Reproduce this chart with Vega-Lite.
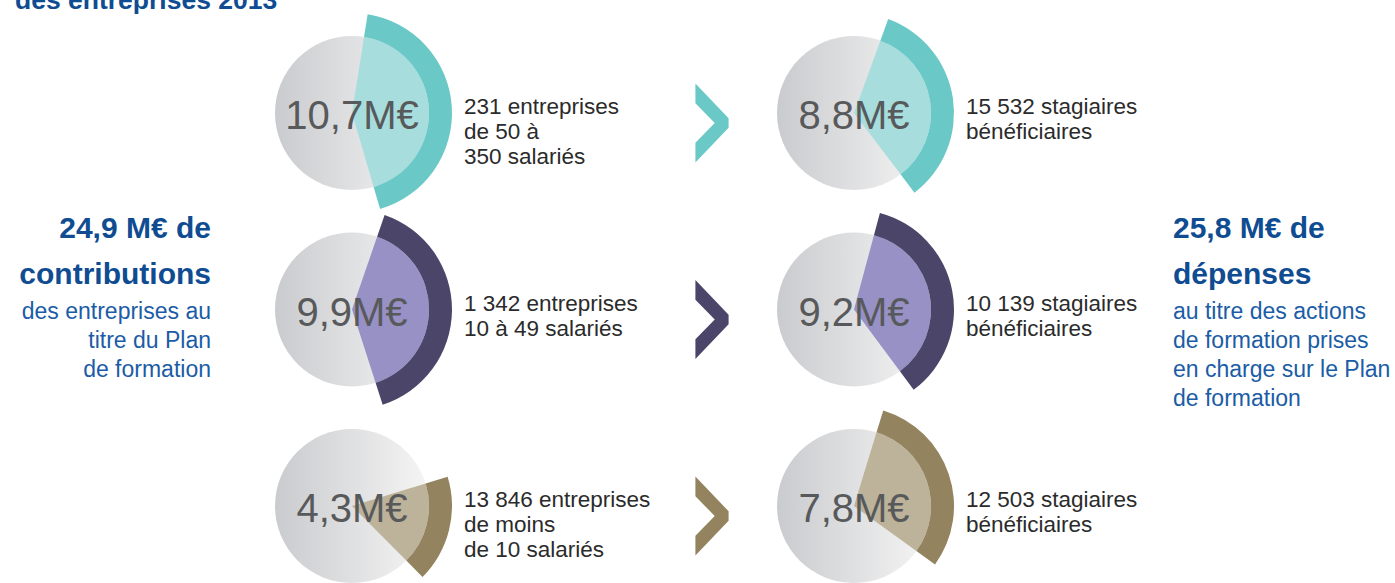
{
  "$schema": "https://vega.github.io/schema/vega-lite/v6.json",
  "width": 1395,
  "height": 583,
  "autosize": "none",
  "padding": 0,
  "background": "white",
  "config": {"view": {"stroke": null}},
  "datasets": {
    "cercles": [
      {"colonne": "Contributions", "tranche": "50 à 350 salariés", "montant": 10.7, "libelle": "10,7M€", "texte": "231 entreprises\nde 50 à\n350 salariés"},
      {"colonne": "Contributions", "tranche": "10 à 49 salariés", "montant": 9.9, "libelle": "9,9M€", "texte": "1 342 entreprises\n10 à 49 salariés"},
      {"colonne": "Contributions", "tranche": "moins de 10 salariés", "montant": 4.3, "libelle": "4,3M€", "texte": "13 846 entreprises\nde moins\nde 10 salariés"},
      {"colonne": "Dépenses", "tranche": "50 à 350 salariés", "montant": 8.8, "libelle": "8,8M€", "texte": "15 532 stagiaires\nbénéficiaires"},
      {"colonne": "Dépenses", "tranche": "10 à 49 salariés", "montant": 9.2, "libelle": "9,2M€", "texte": "10 139 stagiaires\nbénéficiaires"},
      {"colonne": "Dépenses", "tranche": "moins de 10 salariés", "montant": 7.8, "libelle": "7,8M€", "texte": "12 503 stagiaires\nbénéficiaires"}
    ],
    "titres": [
      {"colonne": "Contributions", "tranche": "10 à 49 salariés", "titre": "24,9 M€ de\ncontributions", "soustitre": "des entreprises au\ntitre du Plan\nde formation"},
      {"colonne": "Dépenses", "tranche": "10 à 49 salariés", "titre": "25,8 M€ de\ndépenses", "soustitre": "au titre des actions\nde formation prises\nen charge sur le Plan\nde formation"}
    ],
    "surtitre": [
      {"colonne": "Contributions", "tranche": "50 à 350 salariés", "texte": "des entreprises 2013"}
    ]
  },
  "data": {"name": "cercles"},
  "encoding": {
    "x": {"field": "colonne", "type": "nominal", "axis": null,
      "scale": {"type": "point", "domain": ["Contributions", "Dépenses"], "range": [352, 854], "padding": 0}},
    "y": {"field": "tranche", "type": "nominal", "axis": null,
      "scale": {"type": "point", "domain": ["50 à 350 salariés", "10 à 49 salariés", "moins de 10 salariés"], "range": [113, 506], "padding": 0}}
  },
  "resolve": {"scale": {"theta": "independent"}},
  "layer": [
    {
      "mark": {"type": "arc", "innerRadius": 0, "outerRadius": 77, "theta": 0, "theta2": 6.2832,
        "fill": {"gradient": "linear", "x1": 0, "y1": 0, "x2": 1, "y2": 0,
          "stops": [{"offset": 0, "color": "#CACBCE"}, {"offset": 1, "color": "#F5F5F5"}]}},
      "encoding": {}
    },
    {
      "transform": [{"filter": "datum.colonne === 'Contributions' && datum.tranche === '50 à 350 salariés'"}],
      "encoding": {
        "theta": {"field": "montant", "type": "quantitative", "stack": null,
          "scale": {"domain": [0, 24.9], "range": [0.157, 6.440], "nice": false, "zero": true}},
        "theta2": {"datum": 0}
      },
      "layer": [
        {"mark": {"type": "arc", "innerRadius": 0, "outerRadius": 77},
         "encoding": {"fill": {"field": "tranche", "type": "nominal", "legend": null,
           "scale": {"domain": ["50 à 350 salariés", "10 à 49 salariés", "moins de 10 salariés"], "range": ["#A7DEDD", "#9891C5", "#BDB39A"]}}}},
        {"mark": {"type": "arc", "innerRadius": 77, "outerRadius": 100},
         "encoding": {"color": {"field": "tranche", "type": "nominal", "legend": null,
           "scale": {"domain": ["50 à 350 salariés", "10 à 49 salariés", "moins de 10 salariés"], "range": ["#6AC9C7", "#4B4569", "#93835F"]}}}}
      ]
    },
    {
      "transform": [{"filter": "datum.colonne === 'Contributions' && datum.tranche === '10 à 49 salariés'"}],
      "encoding": {
        "theta": {"field": "montant", "type": "quantitative", "stack": null,
          "scale": {"domain": [0, 24.9], "range": [0.332, 6.615], "nice": false, "zero": true}},
        "theta2": {"datum": 0}
      },
      "layer": [
        {"mark": {"type": "arc", "innerRadius": 0, "outerRadius": 77},
         "encoding": {"fill": {"field": "tranche", "type": "nominal", "legend": null}}},
        {"mark": {"type": "arc", "innerRadius": 77, "outerRadius": 100},
         "encoding": {"color": {"field": "tranche", "type": "nominal", "legend": null}}}
      ]
    },
    {
      "transform": [{"filter": "datum.colonne === 'Contributions' && datum.tranche === 'moins de 10 salariés'"}],
      "encoding": {
        "theta": {"field": "montant", "type": "quantitative", "stack": null,
          "scale": {"domain": [0, 24.9], "range": [1.274, 7.557], "nice": false, "zero": true}},
        "theta2": {"datum": 0}
      },
      "layer": [
        {"mark": {"type": "arc", "innerRadius": 0, "outerRadius": 77},
         "encoding": {"fill": {"field": "tranche", "type": "nominal", "legend": null}}},
        {"mark": {"type": "arc", "innerRadius": 77, "outerRadius": 100},
         "encoding": {"color": {"field": "tranche", "type": "nominal", "legend": null}}}
      ]
    },
    {
      "transform": [{"filter": "datum.colonne === 'Dépenses' && datum.tranche === '50 à 350 salariés'"}],
      "encoding": {
        "theta": {"field": "montant", "type": "quantitative", "stack": null,
          "scale": {"domain": [0, 25.8], "range": [0.349, 6.632], "nice": false, "zero": true}},
        "theta2": {"datum": 0}
      },
      "layer": [
        {"mark": {"type": "arc", "innerRadius": 0, "outerRadius": 77},
         "encoding": {"fill": {"field": "tranche", "type": "nominal", "legend": null}}},
        {"mark": {"type": "arc", "innerRadius": 77, "outerRadius": 100},
         "encoding": {"color": {"field": "tranche", "type": "nominal", "legend": null}}}
      ]
    },
    {
      "transform": [{"filter": "datum.colonne === 'Dépenses' && datum.tranche === '10 à 49 salariés'"}],
      "encoding": {
        "theta": {"field": "montant", "type": "quantitative", "stack": null,
          "scale": {"domain": [0, 25.8], "range": [0.262, 6.545], "nice": false, "zero": true}},
        "theta2": {"datum": 0}
      },
      "layer": [
        {"mark": {"type": "arc", "innerRadius": 0, "outerRadius": 77},
         "encoding": {"fill": {"field": "tranche", "type": "nominal", "legend": null}}},
        {"mark": {"type": "arc", "innerRadius": 77, "outerRadius": 100},
         "encoding": {"color": {"field": "tranche", "type": "nominal", "legend": null}}}
      ]
    },
    {
      "transform": [{"filter": "datum.colonne === 'Dépenses' && datum.tranche === 'moins de 10 salariés'"}],
      "encoding": {
        "theta": {"field": "montant", "type": "quantitative", "stack": null,
          "scale": {"domain": [0, 25.8], "range": [0.297, 6.580], "nice": false, "zero": true}},
        "theta2": {"datum": 0}
      },
      "layer": [
        {"mark": {"type": "arc", "innerRadius": 0, "outerRadius": 77},
         "encoding": {"fill": {"field": "tranche", "type": "nominal", "legend": null}}},
        {"mark": {"type": "arc", "innerRadius": 77, "outerRadius": 100},
         "encoding": {"color": {"field": "tranche", "type": "nominal", "legend": null}}}
      ]
    },
    {
      "transform": [{"filter": "datum.colonne === 'Contributions'"}],
      "mark": {"type": "point", "shape": "M-0.42,-1L0.42,-0.12L0.42,0.12L-0.42,1L-0.42,0.5L0.07,0L-0.42,-0.5Z",
        "size": 6241, "filled": true, "opacity": 1, "strokeWidth": 0, "xOffset": 360, "yOffset": 10},
      "encoding": {"color": {"field": "tranche", "type": "nominal", "legend": null}}
    },
    {
      "mark": {"type": "text", "font": "Liberation Sans, Arial, sans-serif", "fontSize": 40,
        "color": "#58595B", "align": "center", "baseline": "middle", "dy": 4},
      "encoding": {"text": {"field": "libelle", "type": "nominal"}}
    },
    {
      "mark": {"type": "text", "font": "Liberation Sans, Arial, sans-serif", "fontSize": 22.5, "color": "#2B2B2B",
        "align": "left", "baseline": "alphabetic", "dx": 112, "dy": 1, "lineHeight": 25, "lineBreak": "\n"},
      "encoding": {"text": {"field": "texte", "type": "nominal"}}
    },
    {
      "data": {"name": "titres"},
      "transform": [{"filter": "datum.colonne === 'Contributions'"}],
      "layer": [
        {"mark": {"type": "text", "font": "Liberation Sans, Arial, sans-serif", "fontWeight": "bold",
          "fontSize": 30, "color": "#0F4C92", "align": "right", "baseline": "alphabetic", "dx": -141, "dy": -71.5,
          "lineHeight": 46, "lineBreak": "\n"},
         "encoding": {"text": {"field": "titre", "type": "nominal"}}},
        {"mark": {"type": "text", "font": "Liberation Sans, Arial, sans-serif", "fontSize": 23, "color": "#1B5CA6",
          "align": "right", "baseline": "alphabetic", "dx": -141, "dy": 9.5, "lineHeight": 29, "lineBreak": "\n"},
         "encoding": {"text": {"field": "soustitre", "type": "nominal"}}}
      ]
    },
    {
      "data": {"name": "titres"},
      "transform": [{"filter": "datum.colonne === 'Dépenses'"}],
      "layer": [
        {"mark": {"type": "text", "font": "Liberation Sans, Arial, sans-serif", "fontWeight": "bold",
          "fontSize": 30, "color": "#0F4C92", "align": "left", "baseline": "alphabetic", "dx": 319, "dy": -71.5,
          "lineHeight": 46, "lineBreak": "\n"},
         "encoding": {"text": {"field": "titre", "type": "nominal"}}},
        {"mark": {"type": "text", "font": "Liberation Sans, Arial, sans-serif", "fontSize": 23, "color": "#1B5CA6",
          "align": "left", "baseline": "alphabetic", "dx": 319, "dy": 9.5, "lineHeight": 29, "lineBreak": "\n"},
         "encoding": {"text": {"field": "soustitre", "type": "nominal"}}}
      ]
    },
    {
      "data": {"name": "surtitre"},
      "mark": {"type": "text", "font": "Liberation Sans, Arial, sans-serif", "fontWeight": "bold", "fontSize": 26.5,
        "color": "#0F4C92", "align": "left", "baseline": "alphabetic", "dx": -337, "dy": -104},
      "encoding": {"text": {"field": "texte", "type": "nominal"}}
    }
  ]
}
